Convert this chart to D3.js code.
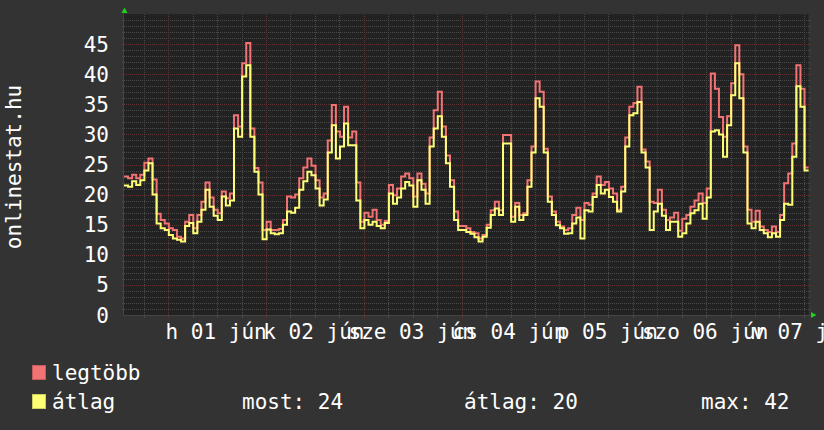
<!DOCTYPE html>
<html><head><meta charset="utf-8">
<script src="https://cdn.jsdelivr.net/npm/d3@7"></script>
<style>html,body{margin:0;padding:0;background:#333333}svg{display:block}</style>
</head><body>
<svg id="chart" width="824" height="430"></svg>
<script>
// hours relative to 2009-06-01 00:00 of the first hourly sample
const startHour = -10.85;
const maxSeries = [
23.0,22.7,23.3,22.7,23.3,25.3,26.0,22.5,16.8,15.8,15.2,14.4,14.1,13.0,12.7,15.5,16.6,14.4,16.6,18.8,
22.0,19.5,17.5,16.9,20.5,19.4,20.2,33.2,31.3,41.8,45.2,31.0,24.4,22.0,14.1,15.5,14.1,14.1,14.3,15.8,
19.7,19.5,20.0,22.7,24.5,26.0,24.8,22.4,19.5,20.2,29.0,34.9,30.5,29.6,34.6,29.5,30.5,22.0,15.5,17.0,
16.3,17.5,15.8,15.0,15.6,21.6,19.9,21.0,23.0,23.5,22.7,19.7,23.5,21.8,20.2,29.5,34.0,37.1,31.3,26.5,
22.4,17.2,14.8,14.8,14.4,13.8,13.6,12.7,13.3,15.0,17.4,18.8,17.4,29.9,29.9,16.3,18.6,16.6,16.9,22.4,
28.0,38.8,37.1,27.6,19.7,17.2,15.5,14.7,14.1,14.4,16.6,17.8,15.8,18.6,18.3,20.2,23.0,21.6,22.1,21.0,
20.2,17.5,21.3,29.5,34.6,35.2,37.9,27.5,25.5,18.8,18.6,20.8,17.5,15.8,16.2,17.0,14.0,16.0,16.6,18.0,
19.0,20.2,18.6,21.0,40.1,37.6,32.9,29.6,33.0,38.5,44.8,40.0,28.0,17.5,15.5,17.3,14.7,14.1,13.8,14.7,
13.8,16.6,21.9,23.5,28.5,41.5,37.6,24.5
];
const avgSeries = [
21.5,21.3,22.2,21.6,22.4,24.0,25.2,20.0,15.2,14.4,14.1,13.3,12.7,12.5,12.2,14.8,15.3,13.6,15.5,17.5,
20.8,18.0,16.5,15.8,19.7,18.2,19.0,31.0,29.6,39.6,41.5,29.6,23.8,20.0,12.6,14.2,13.6,13.4,13.6,15.0,
17.2,17.0,17.8,20.8,22.2,23.8,23.2,21.0,18.2,19.2,27.0,31.5,26.0,28.0,31.8,28.2,28.2,19.0,14.4,15.8,
15.0,15.5,14.8,14.4,15.3,20.2,18.5,19.5,21.0,22.1,21.5,18.0,22.4,20.8,18.5,28.0,31.0,33.0,29.6,25.2,
21.3,15.8,14.1,14.1,13.8,13.5,12.9,12.2,13.0,14.5,16.6,17.7,16.6,28.5,28.5,15.5,18.0,15.8,16.6,21.3,
27.0,36.0,34.6,27.0,18.8,16.6,14.9,14.4,13.5,13.6,15.2,16.2,12.7,17.4,17.2,19.6,21.6,20.2,20.8,19.6,
18.8,17.2,20.5,28.0,33.2,33.5,35.4,27.0,24.5,14.1,17.2,18.5,16.5,14.1,15.5,15.5,13.0,13.6,15.2,16.9,
17.4,18.5,16.0,19.5,30.5,30.7,30.0,26.3,31.5,36.5,41.8,36.0,27.0,15.2,14.4,15.5,14.1,13.6,12.9,13.6,
13.0,15.8,18.5,18.3,26.3,38.0,34.6,24.0
];
const dayNoons = [12, 36, 60, 84, 108, 132, 156];
const dayLabels = ["h 01 jún", "k 02 jún", "sze 03 jún", "cs 04 jún", "p 05 jún", "szo 06 jún", "v 07 jún"];
const yTicks = [0, 5, 10, 15, 20, 25, 30, 35, 40, 45];
const yTitle = "onlinestat.hu";
const seriesNames = ["legtöbb", "átlag"];
const statLabels = ["most: 24", "átlag: 20", "max: 42"];

const COLORS = { canvas: "#333333", plot: "#222222", minor: "#4a4a4a", major: "#633131",
  red: "#f27373", yellow: "#ffff75", text: "#ffffff", arrow: "#1fd11f", axis: "#444444" };
const FONT = "DejaVu Sans Mono";
const FS = 21;

const svg = d3.select("#chart");
const plot = { left: 124, right: 808.6, top: 14, bottom: 315 };
const n = maxSeries.length;
const x = d3.scaleLinear().domain([startHour, startHour + n]).range([plot.left, plot.right]);
const y = d3.scaleLinear().domain([0, 50]).range([plot.bottom, plot.top]);

svg.append("rect").attr("width", 824).attr("height", 430).attr("fill", COLORS.canvas);
svg.append("rect").attr("x", plot.left).attr("y", plot.top)
  .attr("width", plot.right - plot.left).attr("height", plot.bottom - plot.top).attr("fill", COLORS.plot);

const grid = svg.append("g").attr("shape-rendering", "crispEdges");
// minor first, majors on top
const hVals = d3.range(1, 50).sort((a, b) => (a % 5 === 0) - (b % 5 === 0));
hVals.forEach(v => {
  const major = v % 5 === 0;
  grid.append("line").attr("x1", plot.left - 2).attr("x2", plot.right + 2)
    .attr("y1", Math.round(y(v)) + 0.5).attr("y2", Math.round(y(v)) + 0.5)
    .attr("stroke", major ? COLORS.major : COLORS.minor).attr("stroke-width", 1)
    .attr("stroke-dasharray", "1,1");
});
// vertical grid every 6 hours
d3.range(Math.ceil(startHour / 6) * 6, startHour + n, 6).forEach(h => {
  const major = ((h % 24) + 24) % 24 === 0;
  const xx = Math.round(x(h)) + 0.5;
  grid.append("line").attr("x1", xx).attr("x2", xx).attr("y1", plot.top).attr("y2", plot.bottom)
    .attr("stroke", major ? COLORS.major : COLORS.minor).attr("stroke-dasharray", "1,1");
  grid.append("line").attr("x1", xx).attr("x2", xx).attr("y1", plot.bottom).attr("y2", plot.bottom + 3)
    .attr("stroke", major ? COLORS.major : COLORS.minor);
});

const line = d3.line().x((d, i) => x(startHour + i)).y(d => y(d)).curve(d3.curveStepAfter);
const ext = a => a.concat([a[a.length - 1]]);
svg.append("path").datum(ext(maxSeries)).attr("d", line).attr("fill", "none")
  .attr("stroke", COLORS.red).attr("stroke-width", 2);
svg.append("path").datum(ext(avgSeries)).attr("d", line).attr("fill", "none")
  .attr("stroke", COLORS.yellow).attr("stroke-width", 2);

// axes
svg.append("line").attr("x1", plot.left - 0.5).attr("x2", plot.left - 0.5).attr("y1", plot.top).attr("y2", plot.bottom)
  .attr("stroke", COLORS.axis);
svg.append("line").attr("x1", plot.left).attr("x2", plot.right + 2).attr("y1", plot.bottom + 0.5).attr("y2", plot.bottom + 0.5)
  .attr("stroke", COLORS.axis);
// arrows
svg.append("path").attr("d", `M${plot.left - 2.5},13 L${plot.left + 3.5},13 L${plot.left + 0.5},7.5 Z`).attr("fill", COLORS.arrow);
svg.append("path").attr("d", `M811,312 L811,318 L816.5,315 Z`).attr("fill", COLORS.arrow);

// y tick labels
svg.append("g").selectAll("text").data(yTicks).join("text")
  .attr("x", 109).attr("y", d => y(d)).attr("dy", "0.36em")
  .attr("text-anchor", "end").attr("font-family", FONT).attr("font-size", FS)
  .attr("fill", COLORS.text).text(d => d);

// x labels (they overlap in the reference, too)
svg.append("g").selectAll("text").data(dayLabels).join("text")
  .attr("x", (d, i) => x(dayNoons[i]) - 1).attr("y", 338.5)
  .attr("text-anchor", "middle").attr("font-family", FONT).attr("font-size", FS)
  .attr("fill", COLORS.text).text(d => d);

// y title
svg.append("text").attr("transform", "translate(21,167) rotate(-90)")
  .attr("text-anchor", "middle").attr("font-family", FONT).attr("font-size", FS)
  .attr("fill", COLORS.text).text(yTitle);

// legend
const legColors = [COLORS.red, COLORS.yellow];
const legY = [380, 409];
seriesNames.forEach((s, i) => {
  svg.append("rect").attr("x", 32.5).attr("y", legY[i] - 14.5).attr("width", 13).attr("height", 14)
    .attr("fill", legColors[i]).attr("stroke", d3.color(legColors[i]).darker(0.6)).attr("stroke-width", 1);
  svg.append("text").attr("x", 52).attr("y", legY[i]).attr("font-family", FONT).attr("font-size", FS)
    .attr("fill", COLORS.text).text(s);
});
const statX = [242, 464, 701];
statLabels.forEach((s, i) => {
  svg.append("text").attr("x", statX[i]).attr("y", 409).attr("font-family", FONT).attr("font-size", FS)
    .attr("fill", COLORS.text).text(s);
});
</script>
</body></html>
